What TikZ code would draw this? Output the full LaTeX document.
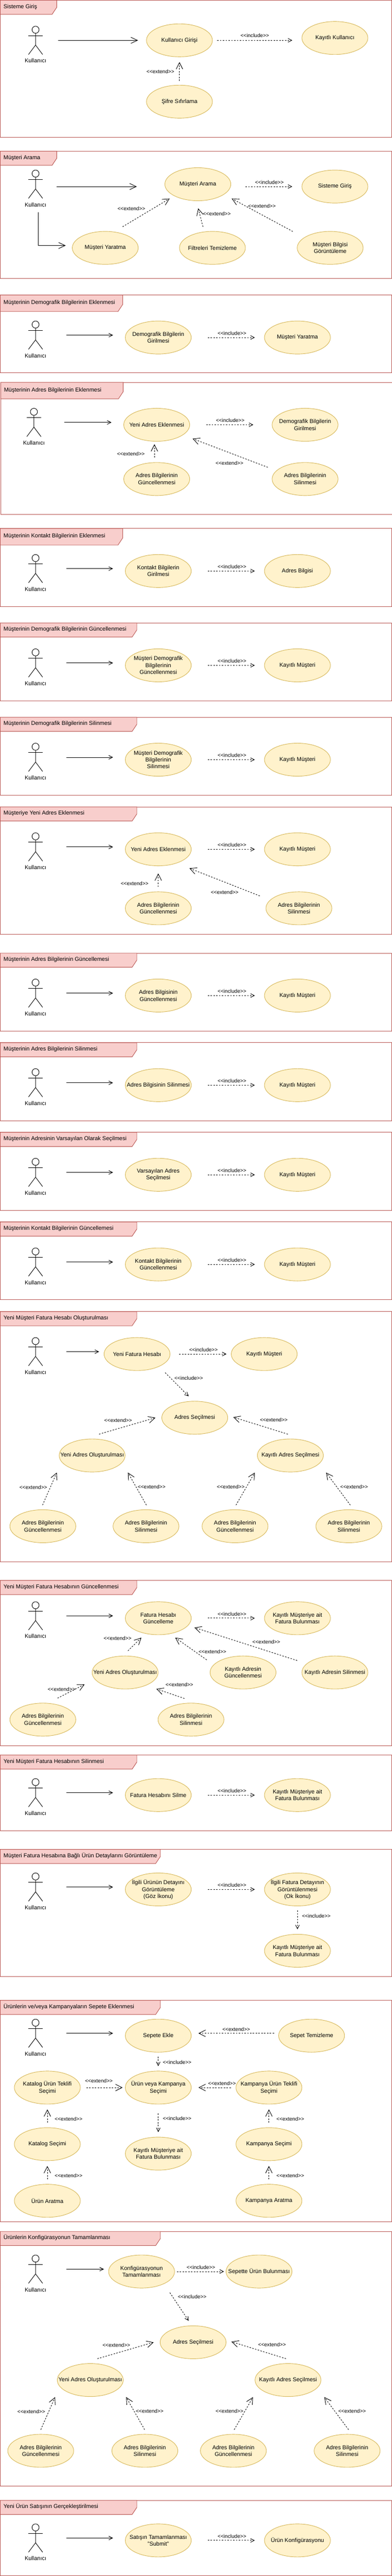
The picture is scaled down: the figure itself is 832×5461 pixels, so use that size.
\documentclass[tikz,border=0pt]{standalone}
\usepackage{fontspec}
\setmainfont{Liberation Sans}
\usetikzlibrary{shapes.geometric,arrows.meta}
\definecolor{ucfill}{HTML}{FFF2CC}
\definecolor{ucline}{HTML}{D6B656}
\definecolor{frfill}{HTML}{F8CECC}
\definecolor{frline}{HTML}{B85450}
\newcommand{\inctext}{<\kern0pt<include>\kern0pt>}
\newcommand{\exttext}{<\kern0pt<extend>\kern0pt>}
\newcommand{\ucframe}[7]{%
	\draw[draw=frline] (#2,#3) rectangle ++(831,#4);
	\draw[draw=frline, fill=frfill] (#2,#3) -- ++(#5,0) -- ++(0,#6-15) -- ++(-10,15) -- ++(-#5+10,0) -- cycle;
	\node[frtitle] (#1) at (#2+6.5,#3+#6/2-1) {#7};
}
\newcommand{\actorfig}[3]{%
	\begin{scope}[shift={(#2,#3)}]
		\node[actorbox] (#1) at (0,30) {};
		\draw (0,7.5) circle [radius=7.5];
		\draw (-15,20) -- (15,20);
		\draw (0,15) -- (0,40) -- (-15,60);
		\draw (0,40) -- (15,60);
		\node[txt] (#1t) at (0,73.3) {Kullanıcı};
	\end{scope}
}

\begin{document}
\begin{tikzpicture}[
		x=1pt, y=-1pt,
		line width=1pt,
		ucase/.style = {draw=ucline, fill=ucfill, ellipse, minimum width=140pt, minimum height=70pt, inner xsep=-20pt, inner ysep=0pt, outer sep=0pt, align=center, font=\fontsize{12}{14.7}\selectfont},
		txt/.style = {inner sep=0pt, font=\fontsize{12}{14.7}\selectfont},
		frtitle/.style = {anchor=west, inner sep=0pt, text height=8.6pt, text depth=2.4pt, font=\fontsize{12}{14.7}\selectfont},
		lbl/.style = {inner sep=0pt, font=\fontsize{11}{13}\selectfont},
		actorbox/.style = {minimum width=30pt, minimum height=60pt, inner sep=0pt, outer sep=0pt},
		assoc/.style = {->, >={Straight Barb[length=14pt,width=13pt]}},
		assocs/.style = {->, >={Straight Barb[length=8pt,width=8pt]}},
		incl/.style = {->, >={Straight Barb[length=8pt,width=8pt]}, dash pattern=on 3pt off 3pt},
		ext/.style = {->, >={Straight Barb[length=14pt,width=14pt]}, dash pattern=on 3pt off 3pt},
		stdassoc/.style = {assocs, shorten <=50pt, shorten >=26pt},
		stdinc/.style = {incl, shorten <=35pt, shorten >=20.5pt}
	]
	\useasboundingbox (0,0) rectangle (832,5461);

	\ucframe{f1}{0.5}{0.5}{290}{120}{30}{Sisteme Giriş}
	\actorfig{a1}{75.5}{55.5}
	\node[ucase] (u1a) at (381,85.5) {Kullanıcı Girişi};
	\node[ucase] (u1b) at (711,80.5) {Kayıtlı Kullanıcı};
	\node[ucase] (u1c) at (381,215.5) {Şifre Sıfırlama};
	\node[lbl] (l1a) at (541,75.5) {\inctext};
	\node[lbl] (l1b) at (340.5,151.5) {\exttext};
	\draw[assoc, shorten <=33pt, shorten >=18pt] (a1.east) -- (a1.east -| u1a.west);
	\draw[incl, shorten <=10pt, shorten >=20.5pt] (u1a.east) -- (u1a.east -| u1b.west);
	\draw[ext, shorten <=9pt, shorten >=11pt] (u1c.north) -- (u1a.south);

	\ucframe{f2}{0.5}{320.5}{270}{120}{30}{Müşteri Arama}
	\actorfig{a2}{75.5}{360.5}
	\node[ucase] (u2a) at (420,390.5) {Müşteri Arama};
	\node[ucase] (u2b) at (711,395.5) {Sisteme Giriş};
	\node[ucase] (u2c) at (223.5,525.5) {Müşteri Yaratma};
	\node[ucase] (u2d) at (451,525.5) {Filtreleri Temizleme};
	\node[ucase] (u2e) at (701,525.5) {Müşteri Bilgisi\\Görüntüleme};
	\node[lbl] (l2a) at (572,386.5) {\inctext};
	\node[lbl] (l2b) at (279,442.5) {\exttext};
	\node[lbl] (l2c) at (460.5,453.5) {\exttext};
	\node[lbl] (l2d) at (556,436.5) {\exttext};
	\draw[assoc, shorten <=30pt, shorten >=59.5pt] (a2.east |- u2b) -- (u2b -| u2a.west);
	\draw[assoc, shorten <=30pt, shorten >=14pt] ([xshift=5.3pt]a2.south) |- ([yshift=5pt]u2c.west);
	\draw[incl, shorten <=31pt, shorten >=20.5pt] (u2a.east |- u2b) -- (u2b.west);
	\draw[ext] ([shift={(36.8,-44.8)}]u2c.center) -- ([shift={(-59.8,30.5)}]u2a.center);
	\draw[ext] ([shift={(-20.1,-44.8)}]u2d.center) -- ([shift={(0.8,51.2)}]u2a.center);
	\draw[ext] ([shift={(-79.4,-34.8)}]u2e.center) -- ([shift={(72,30.5)}]u2a.center);

	\ucframe{f3}{0.5}{625.5}{165}{260}{35}{Müşterinin Demografik Bilgilerinin Eklenmesi}
	\actorfig{a3}{75.5}{680.5}
	\node[ucase] (u3a) at (336,715.5) {Demografik Bilgilerin\\Girilmesi};
	\node[ucase] (u3b) at (631.5,715.5) {Müşteri Yaratma};
	\node[lbl] (l3a) at (492.5,706.5) {\inctext};
	\draw[stdassoc] (a3.east) -- (a3.east -| u3a.west);
	\draw[stdinc] (u3a.east) -- (u3b.west);

	\ucframe{f4}{1.5}{810.5}{280}{260}{35}{Müşterinin Adres Bilgilerinin Eklenmesi}
	\actorfig{a4}{72}{865.5}
	\node[ucase] (u4a) at (332.7,900.5) {Yeni Adres Eklenmesi};
	\node[ucase] (u4b) at (647.7,900.5) {Demografik Bilgilerin\\Girilmesi};
	\node[ucase] (u4c) at (332.7,1015.5) {Adres Bilgilerinin\\Güncellenmesi};
	\node[ucase] (u4d) at (647.7,1015.5) {Adres Bilgilerinin\\Silinmesi};
	\node[lbl] (l4a) at (488.8,891.5) {\inctext};
	\node[lbl] (l4b) at (277.9,962.5) {\exttext};
	\node[lbl] (l4c) at (487.2,981.5) {\exttext};
	\draw[stdassoc] (a4.east) -- (a4.east -| u4a.west);
	\draw[incl, shorten <=35pt, shorten >=40pt] (u4a.east) -- (u4b.west);
	\draw[ext] ([shift={(-4.9,-45.5)}]u4c.center) -- ([shift={(-4.9,41.2)}]u4a.center);
	\draw[ext] ([shift={(-79.2,-24.8)}]u4d.center) -- ([shift={(76.3,29.5)}]u4a.center);

	\ucframe{f5}{0.5}{1120.5}{165}{260}{35}{Müşterinin Kontakt Bilgilerinin Eklenmesi}
	\actorfig{a5}{75.5}{1175.5}
	\node[ucase] (u5a) at (336,1210.5) {Kontakt Bilgilerin\\Girilmesi};
	\node[ucase] (u5b) at (631.5,1210.5) {Adres Bilgisi};
	\node[lbl] (l5a) at (492.5,1201.5) {\inctext};
	\draw[stdassoc] (a5.east) -- (a5.east -| u5a.west);
	\draw[stdinc] (u5a.east) -- (u5b.west);

	\ucframe{f6}{0.5}{1320.5}{165}{290}{30}{Müşterinin Demografik Bilgilerinin Güncellenmesi}
	\actorfig{a6}{75.5}{1375.5}
	\node[ucase] (u6a) at (336,1410.5) {Müşteri Demografik\\Bilgilerinin\\Güncellenmesi};
	\node[ucase] (u6b) at (631.5,1410.5) {Kayıtlı Müşteri};
	\node[lbl] (l6a) at (492.5,1401.5) {\inctext};
	\draw[stdassoc] (a6.east) -- (a6.east -| u6a.west);
	\draw[stdinc] (u6a.east) -- (u6b.west);

	\ucframe{f7}{0.5}{1520.5}{165}{290}{30}{Müşterinin Demografik Bilgilerinin Silinmesi}
	\actorfig{a7}{75.5}{1575.5}
	\node[ucase] (u7a) at (336,1610.5) {Müşteri Demografik\\Bilgilerinin\\Silinmesi};
	\node[ucase] (u7b) at (631.5,1610.5) {Kayıtlı Müşteri};
	\node[lbl] (l7a) at (492.5,1601.5) {\inctext};
	\draw[stdassoc] (a7.east) -- (a7.east -| u7a.west);
	\draw[stdinc] (u7a.east) -- (u7b.west);

	\ucframe{f8}{0.5}{1710.5}{270}{290}{30}{Müşteriye Yeni Adres Eklenmesi}
	\actorfig{a8}{75.5}{1765.5}
	\node[ucase] (u8a) at (336,1800.5) {Yeni Adres Eklenmesi};
	\node[ucase] (u8b) at (631.5,1800.5) {Kayıtlı Müşteri};
	\node[ucase] (u8c) at (336,1925.5) {Adres Bilgilerinin\\Güncellenmesi};
	\node[ucase] (u8d) at (634.6,1925.5) {Adres Bilgilerinin\\Silinmesi};
	\node[lbl] (l8a) at (492.5,1791.5) {\inctext};
	\node[lbl] (l8b) at (285.8,1872.5) {\exttext};
	\node[lbl] (l8c) at (477,1891.5) {\exttext};
	\draw[stdassoc] (a8.east) -- (a8.east -| u8a.west);
	\draw[stdinc] (u8a.east) -- (u8b.west);
	\draw[ext, shorten <=10.5pt, shorten >=16.2pt] (u8c.north) -- (u8a.south);
	\draw[ext] ([shift={(-83.1,-26.2)}]u8d.center) -- ([shift={(66.2,40.2)}]u8a.center);

	\ucframe{f9}{0.5}{2020.5}{165}{290}{30}{Müşterinin Adres Bilgilerinin Güncellemesi}
	\actorfig{a9}{75.5}{2075.5}
	\node[ucase] (u9a) at (336,2110.5) {Adres Bilgisinin\\Güncellenmesi};
	\node[ucase] (u9b) at (631.5,2110.5) {Kayıtlı Müşteri};
	\node[lbl] (l9a) at (492.5,2101.5) {\inctext};
	\draw[stdassoc] (a9.east) -- (a9.east -| u9a.west);
	\draw[stdinc] (u9a.east) -- (u9b.west);

	\ucframe{f10}{0.5}{2210.5}{165}{290}{30}{Müşterinin Adres Bilgilerinin Silinmesi}
	\actorfig{a10}{75.5}{2265.5}
	\node[ucase] (u10a) at (336,2300.5) {Adres Bilgisinin Silinmesi};
	\node[ucase] (u10b) at (631.5,2300.5) {Kayıtlı Müşteri};
	\node[lbl] (l10a) at (492.5,2291.5) {\inctext};
	\draw[stdassoc] (a10.east) -- (a10.east -| u10a.west);
	\draw[stdinc] (u10a.east) -- (u10b.west);

	\ucframe{f11}{0.5}{2400.5}{165}{290}{30}{Müşterinin Adresinin Varsayılan Olarak Seçilmesi}
	\actorfig{a11}{75.5}{2455.5}
	\node[ucase] (u11a) at (336,2490.5) {Varsayılan Adres\\Seçilmesi};
	\node[ucase] (u11b) at (631.5,2490.5) {Kayıtlı Müşteri};
	\node[lbl] (l11a) at (492.5,2481.5) {\inctext};
	\draw[stdassoc] (a11.east) -- (a11.east -| u11a.west);
	\draw[stdinc] (u11a.east) -- (u11b.west);

	\ucframe{f12}{0.5}{2590.5}{165}{290}{30}{Müşterinin Kontakt Bilgilerinin Güncellemesi}
	\actorfig{a12}{75.5}{2645.5}
	\node[ucase] (u12a) at (336,2680.5) {Kontakt Bilgilerinin\\Güncellenmesi};
	\node[ucase] (u12b) at (631.5,2680.5) {Kayıtlı Müşteri};
	\node[lbl] (l12a) at (492.5,2671.5) {\inctext};
	\draw[stdassoc] (a12.east) -- (a12.east -| u12a.west);
	\draw[stdinc] (u12a.east) -- (u12b.west);

	\ucframe{f13}{0.5}{2780.5}{530}{290}{30}{Yeni Müşteri Fatura Hesabı Oluşturulması}
	\actorfig{a13}{75.5}{2835.5}
	\node[ucase] (u13a) at (291,2870.5) {Yeni Fatura Hesabı};
	\node[ucase] (u13b) at (561,2870.5) {Kayıtlı Müşteri};
	\node[ucase] (u13c) at (413.5,3005.5) {Adres Seçilmesi};
	\node[ucase] (u13d) at (195.6,3085.5) {Yeni Adres Oluşturulması};
	\node[ucase] (u13e) at (616.5,3085.5) {Kayıtlı Adres Seçilmesi};
	\node[ucase] (u13f) at (91,3235.5) {Adres Bilgilerinin\\Güncellenmesi};
	\node[ucase] (u13g) at (310,3235.5) {Adres Bilgilerinin\\Silinmesi};
	\node[ucase] (u13h) at (499,3235.5) {Adres Bilgilerinin\\Güncellenmesi};
	\node[ucase] (u13i) at (740.6,3235.5) {Adres Bilgilerinin\\Silinmesi};
	\node[lbl] (l13a) at (432,2861.5) {\inctext};
	\node[lbl] (l13b) at (400.6,2921.5) {\inctext};
	\node[lbl] (l13c) at (250.8,3011.5) {\exttext};
	\node[lbl] (l13d) at (581.2,3010.5) {\exttext};
	\node[lbl] (l13e) at (70.7,3152.5) {\exttext};
	\node[lbl] (l13f) at (322,3151.5) {\exttext};
	\node[lbl] (l13g) at (489.9,3151.5) {\exttext};
	\node[lbl] (l13h) at (751.8,3151.5) {\exttext};
	\draw[assocs, shorten <=50pt, shorten >=10.6pt] (a13.east) -- (a13.east -| u13a.west);
	\draw[incl, shorten <=19.4pt, shorten >=10.2pt] (u13a.east) -- (u13b.west);
	\draw[incl] ([shift={(59.7,39.5)}]u13a.center) -- ([shift={(-12.9,-45.5)}]u13c.center);
	\draw[ext] ([shift={(14.8,-45.2)}]u13d.center) -- ([shift={(-83.5,0)}]u13c.center);
	\draw[ext] ([shift={(-5.5,-45.2)}]u13e.center) -- ([shift={(81.7,-1.2)}]u13c.center);
	\draw[ext] ([shift={(-0.7,-44.8)}]u13f.center) -- ([shift={(-75,36.2)}]u13d.center);
	\draw[ext] ([shift={(0.8,-44.8)}]u13g.center) -- ([shift={(75.9,36.2)}]u13d.center);
	\draw[ext] ([shift={(2,-44.8)}]u13h.center) -- ([shift={(-75.6,36.2)}]u13e.center);
	\draw[ext] ([shift={(3.2,-44.8)}]u13i.center) -- ([shift={(75.8,36.2)}]u13e.center);

	\ucframe{f14}{0.5}{3350.5}{350}{290}{30}{Yeni Müşteri Fatura Hesabının Güncellenmesi}
	\actorfig{a14}{75.5}{3395.5}
	\node[ucase] (u14a) at (336,3430.5) {Fatura Hesabı\\Güncelleme};
	\node[ucase] (u14b) at (631.5,3430.5) {Kayıtlı Müşteriye ait\\Fatura Bulunması};
	\node[ucase] (u14c) at (265.6,3545.5) {Yeni Adres Oluşturulması};
	\node[ucase] (u14d) at (516,3545.5) {Kayıtlı Adresin\\Güncellenmesi};
	\node[ucase] (u14e) at (711,3545.5) {Kayıtlı Adresin Silinmesi};
	\node[ucase] (u14f) at (91,3645.5) {Adres Bilgilerinin\\Güncellenmesi};
	\node[ucase] (u14g) at (405.5,3645.5) {Adres Bilgilerinin\\Silinmesi};
	\node[lbl] (l14a) at (492.5,3421.5) {\inctext};
	\node[lbl] (l14b) at (249.7,3472.5) {\exttext};
	\node[lbl] (l14c) at (451,3501.5) {\exttext};
	\node[lbl] (l14d) at (565.3,3480.5) {\exttext};
	\node[lbl] (l14e) at (130.7,3581.5) {\exttext};
	\node[lbl] (l14f) at (380.9,3571.5) {\exttext};
	\draw[stdassoc] (a14.east) -- (a14.east -| u14a.west);
	\draw[stdinc] (u14a.east) -- (u14b.west);
	\draw[ext] ([shift={(5.9,-45.8)}]u14c.center) -- ([shift={(-35.8,41.2)}]u14a.center);
	\draw[ext] ([shift={(-77.2,-26.8)}]u14d.center) -- ([shift={(35.9,41.2)}]u14a.center);
	\draw[ext] ([shift={(-80,-25.2)}]u14e.center) -- ([shift={(76.8,19.8)}]u14a.center);
	\draw[ext] ([shift={(31.2,-45.5)}]u14f.center) -- ([shift={(-86,25.2)}]u14c.center);
	\draw[ext] ([shift={(-13.9,-44.8)}]u14g.center) -- ([shift={(66.4,34.8)}]u14c.center);

	\ucframe{f15}{0.5}{3720.5}{160}{290}{30}{Yeni Müşteri Fatura Hesabının Silinmesi}
	\actorfig{a15}{75.5}{3770.5}
	\node[ucase] (u15a) at (336,3805.5) {Fatura Hesabını Silme};
	\node[ucase] (u15b) at (631.5,3805.5) {Kayıtlı Müşteriye ait\\Fatura Bulunması};
	\node[lbl] (l15a) at (492.5,3796.5) {\inctext};
	\draw[stdassoc] (a15.east) -- (a15.east -| u15a.west);
	\draw[stdinc] (u15a.east) -- (u15b.west);

	\ucframe{f16}{0.5}{3920.5}{270}{340}{30}{Müşteri Fatura Hesabına Bağlı Ürün Detaylarını Görüntüleme}
	\actorfig{a16}{75.5}{3970.5}
	\node[ucase] (u16a) at (336,4005.5) {İlgili Ürünün Detayını\\Görüntüleme\\(Göz İkonu)};
	\node[ucase] (u16b) at (631.5,4005.5) {İlgili Fatura Detayının\\Görüntülenmesi\\(Ok İkonu)};
	\node[ucase] (u16c) at (631.5,4135.5) {Kayıtlı Müşteriye ait\\Fatura Bulunması};
	\node[lbl] (l16a) at (492.5,3996.5) {\inctext};
	\node[lbl] (l16b) at (671.5,4061.5) {\inctext};
	\draw[stdassoc] (a16.east) -- (a16.east -| u16a.west);
	\draw[stdinc] (u16a.east) -- (u16b.west);
	\draw[incl, shorten <=9.5pt, shorten >=10.5pt] (u16b.south) -- (u16c.north);

	\ucframe{f17}{0.5}{4240.5}{470}{340}{30}{Ürünlerin ve/veya Kampanyaların Sepete Eklenmesi}
	\actorfig{a17}{75.5}{4280.5}
	\node[ucase] (u17a) at (336,4315.5) {Sepete Ekle};
	\node[ucase] (u17b) at (661.5,4315.5) {Sepet Temizleme};
	\node[ucase] (u17c) at (336,4425.5) {Ürün veya Kampanya\\Seçimi};
	\node[ucase] (u17d) at (100.5,4425.5) {Katalog Ürün Teklifi\\Seçimi};
	\node[ucase] (u17e) at (571,4425.5) {Kampanya Ürün Teklifi\\Seçimi};
	\node[ucase] (u17f) at (336,4565.5) {Kayıtlı Müşteriye ait\\Fatura Bulunması};
	\node[ucase] (u17g) at (100.5,4545.5) {Katalog Seçimi};
	\node[ucase] (u17h) at (571,4545.5) {Kampanya Seçimi};
	\node[ucase] (u17i) at (100.5,4665.5) {Ürün Aratma};
	\node[ucase] (u17j) at (571,4665.5) {Kampanya Aratma};
	\node[lbl] (l17a) at (501.5,4301.5) {\exttext};
	\node[lbl] (l17b) at (376.1,4371.5) {\inctext};
	\node[lbl] (l17c) at (209.9,4411.5) {\exttext};
	\node[lbl] (l17d) at (471.3,4416.5) {\exttext};
	\node[lbl] (l17e) at (376.1,4491.5) {\inctext};
	\node[lbl] (l17f) at (145.6,4492.5) {\exttext};
	\node[lbl] (l17g) at (616.3,4492.5) {\exttext};
	\node[lbl] (l17h) at (145.6,4612.5) {\exttext};
	\node[lbl] (l17i) at (616.3,4612.5) {\exttext};
	\draw[stdassoc] (a17.east) -- (a17.east -| u17a.west);
	\draw[ext, shorten <=9.7pt, shorten >=15.3pt] ([yshift=5pt]u17b.west) -- ([yshift=5pt]u17a.east);
	\draw[incl, shorten <=9.5pt, shorten >=10.5pt] (u17a.south) -- (u17c.north);
	\draw[ext, shorten <=12.8pt, shorten >=5.7pt] (u17d.east) -- (u17c.west);
	\draw[ext, shorten <=11.1pt, shorten >=15.3pt] (u17e.west) -- (u17c.east);
	\draw[incl, shorten <=20pt, shorten >=10.5pt] (u17c.south) -- (u17f.north);
	\draw[ext, shorten <=10.5pt, shorten >=11.2pt] (u17g.north) -- (u17d.south);
	\draw[ext, shorten <=10.5pt, shorten >=11.2pt] (u17h.north) -- (u17e.south);
	\draw[ext, shorten <=10.5pt, shorten >=11.2pt] (u17i.north) -- (u17g.south);
	\draw[ext, shorten <=10.5pt, shorten >=11.2pt] (u17j.north) -- (u17h.south);

	\ucframe{f18}{0.5}{4730.5}{540}{340}{30}{Ürünlerin Konfigürasyonun Tamamlanması}
	\actorfig{a18}{75.5}{4780.5}
	\node[ucase] (u18a) at (300.6,4815.5) {Konfigürasyonun\\Tamamlanması};
	\node[ucase] (u18b) at (550,4815.5) {Sepette Ürün Bulunması};
	\node[ucase] (u18c) at (410,4965.5) {Adres Seçilmesi};
	\node[ucase] (u18d) at (191.6,5045.5) {Yeni Adres Oluşturulması};
	\node[ucase] (u18e) at (611.5,5045.5) {Kayıtlı Adres Seçilmesi};
	\node[ucase] (u18f) at (86.5,5195.5) {Adres Bilgilerinin\\Güncellenmesi};
	\node[ucase] (u18g) at (307.5,5195.5) {Adres Bilgilerinin\\Silinmesi};
	\node[ucase] (u18h) at (495.5,5195.5) {Adres Bilgilerinin\\Güncellenmesi};
	\node[ucase] (u18i) at (737,5195.5) {Adres Bilgilerinin\\Silinmesi};
	\node[lbl] (l18a) at (426.6,4806.5) {\inctext};
	\node[lbl] (l18b) at (408,4868.5) {\inctext};
	\node[lbl] (l18c) at (247,4971.5) {\exttext};
	\node[lbl] (l18d) at (577.5,4970.5) {\exttext};
	\node[lbl] (l18e) at (66.4,5112.5) {\exttext};
	\node[lbl] (l18f) at (317.7,5111.5) {\exttext};
	\node[lbl] (l18g) at (487.2,5111.5) {\exttext};
	\node[lbl] (l18h) at (747.5,5111.5) {\exttext};
	\draw[assocs, shorten <=50pt, shorten >=10pt] (a18.east) -- (a18.east -| u18a.west);
	\draw[incl, shorten <=5pt, shorten >=4.5pt] (u18a.east) -- (u18b.west);
	\draw[incl] ([shift={(60.1,44.8)}]u18a.center) -- ([shift={(-9.4,-45.5)}]u18c.center);
	\draw[ext] ([shift={(15.1,-45.2)}]u18d.center) -- ([shift={(-83.8,0)}]u18c.center);
	\draw[ext] ([shift={(-4.2,-45.2)}]u18e.center) -- ([shift={(81.4,-1.2)}]u18c.center);
	\draw[ext] ([shift={(0.1,-44.8)}]u18f.center) -- ([shift={(-74.7,36.2)}]u18d.center);
	\draw[ext] ([shift={(-0.5,-44.8)}]u18g.center) -- ([shift={(76.2,36.2)}]u18d.center);
	\draw[ext] ([shift={(1.8,-44.8)}]u18h.center) -- ([shift={(-74.4,36.2)}]u18e.center);
	\draw[ext] ([shift={(3,-44.8)}]u18i.center) -- ([shift={(77,36.2)}]u18e.center);

	\ucframe{f19}{0.5}{5300.5}{160}{290}{30}{Yeni Ürün Satışının Gerçekleştirilmesi}
	\actorfig{a19}{75.5}{5350.5}
	\node[ucase] (u19a) at (336,5385.5) {Satışın Tamamlanması\\"Submit"};
	\node[ucase] (u19b) at (631.5,5385.5) {Ürün Konfigürasyonu};
	\node[lbl] (l19a) at (492.5,5376.5) {\inctext};
	\draw[stdassoc] (a19.east) -- (a19.east -| u19a.west);
	\draw[stdinc] (u19a.east) -- (u19b.west);
\end{tikzpicture}
\end{document}
